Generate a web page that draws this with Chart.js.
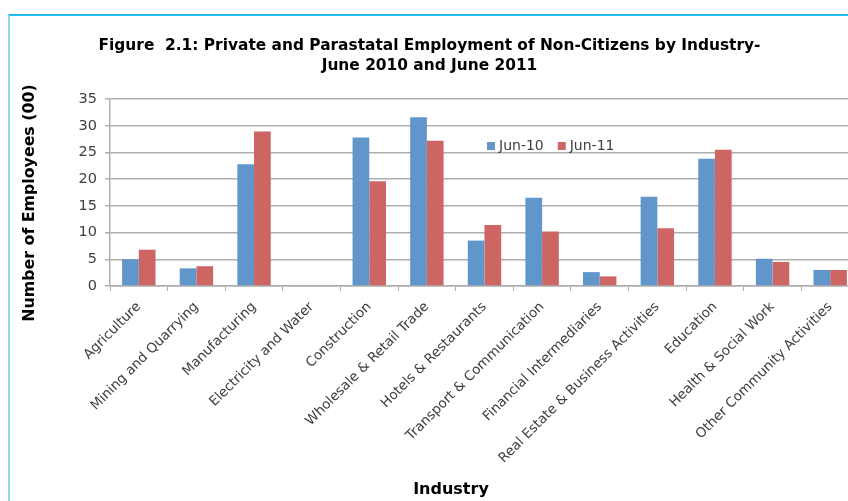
<!DOCTYPE html>
<html lang="en">
<head>
<meta charset="UTF-8">
<title>Employment of Non-Citizens by Industry</title>
<style>
  body { margin: 0; background: #fff; overflow: hidden; }
  .frame {
    position: absolute; left: 8px; top: 14px; width: 900px; height: 600px;
    border-top: 2px solid #1DBDF0; border-left: 2px solid #8FD6F6;
  }
  .wrap { position: absolute; left: 0; top: 0; width: 880px; height: 501px; }
</style>
</head>
<body>
<div class="frame"></div>
<div class="wrap"><canvas id="chart" width="880" height="501"></canvas></div>
<script src="https://cdn.jsdelivr.net/npm/chart.js"></script>
<script>
// data (hundreds of employees)
const industries = [
  'Agriculture', 'Mining and Quarrying', 'Manufacturing', 'Electricity and Water',
  'Construction', 'Wholesale & Retail Trade', 'Hotels & Restaurants',
  'Transport & Communication', 'Financial Intermediaries',
  'Real Estate & Business Activities', 'Education', 'Health & Social Work',
  'Other Community Activities'
];
const jun10 = [5.0, 3.3, 22.8, 0, 27.8, 31.6, 8.5, 16.5, 2.6, 16.7, 23.8, 5.1, 3.0];
const jun11 = [6.8, 3.7, 28.9, 0, 19.6, 27.2, 11.4, 10.2, 1.8, 10.8, 25.5, 4.5, 3.0];
const seriesNames = ['Jun-10', 'Jun-11'];
const seriesColors = ['#6196CB', '#CD6662'];

const tickFont = 'DejaVu Sans';
const gridColor = '#AEAEAE';

// axis titles and the legend sit where Excel put them, so draw them here
const extras = {
  id: 'extras',
  afterDraw(chart) {
    const ctx = chart.ctx;
    ctx.save();
    ctx.fillStyle = '#000';
    ctx.textAlign = 'center';
    ctx.textBaseline = 'middle';

    ctx.font = 'bold 16px "DejaVu Sans"';
    ctx.fillText('Industry', 451, 490);

    ctx.font = 'bold 15.8px "DejaVu Sans"';
    ctx.translate(30, 203);
    ctx.rotate(-Math.PI / 2);
    ctx.fillText('Number of Employees (00)', 0, 0);
    ctx.restore();

    // legend
    ctx.save();
    ctx.font = '14px ' + tickFont;
    ctx.textBaseline = 'middle';
    ctx.textAlign = 'left';
    let x = 487;
    const y = 146;
    chart.data.datasets.forEach(ds => {
      ctx.fillStyle = ds.backgroundColor;
      ctx.fillRect(x, y - 4, 8, 8);
      ctx.fillStyle = '#404040';
      ctx.fillText(ds.label, x + 12, y);
      x += 12 + ctx.measureText(ds.label).width + 14;
    });
    ctx.restore();
  }
};

new Chart(document.getElementById('chart'), {
  type: 'bar',
  data: {
    labels: industries,
    datasets: [
      { label: seriesNames[0], data: jun10, backgroundColor: seriesColors[0] },
      { label: seriesNames[1], data: jun11, backgroundColor: seriesColors[1] }
    ]
  },
  options: {
    responsive: false,
    animation: false,
    categoryPercentage: 0.58,
    barPercentage: 1.0,
    layout: { padding: { left: 0, right: 21, top: 0, bottom: 0 } },
    plugins: {
      legend: { display: false },
      tooltip: { enabled: false },
      title: {
        display: true,
        text: ['Figure  2.1: Private and Parastatal Employment of Non-Citizens by Industry-',
               'June 2010 and June 2011'],
        color: '#000',
        font: { family: 'DejaVu Sans', size: 15.4, weight: 'bold', lineHeight: 1.3 },
        padding: { top: 36, bottom: 23 }
      }
    },
    scales: {
      x: {
        afterFit(scale) { scale.height = 215; },
        grid: {
          display: true, drawOnChartArea: false, offset: true,
          color: gridColor, tickLength: 5, lineWidth: 1
        },
        border: { display: true, color: gridColor, width: 1.5 },
        ticks: {
          color: '#404040', minRotation: 45, maxRotation: 45, autoSkip: false,
          padding: 8, font: { family: tickFont, size: 13.5 }
        }
      },
      y: {
        min: 0, max: 35,
        afterFit(scale) { scale.width = 110; },
        grid: { color: gridColor, lineWidth: 1.5, tickLength: 5 },
        border: { display: true, color: gridColor, width: 1.5 },
        ticks: {
          stepSize: 5, color: '#404040', padding: 8,
          font: { family: tickFont, size: 14.5 }
        }
      }
    }
  },
  plugins: [extras]
});
</script>
</body>
</html>
